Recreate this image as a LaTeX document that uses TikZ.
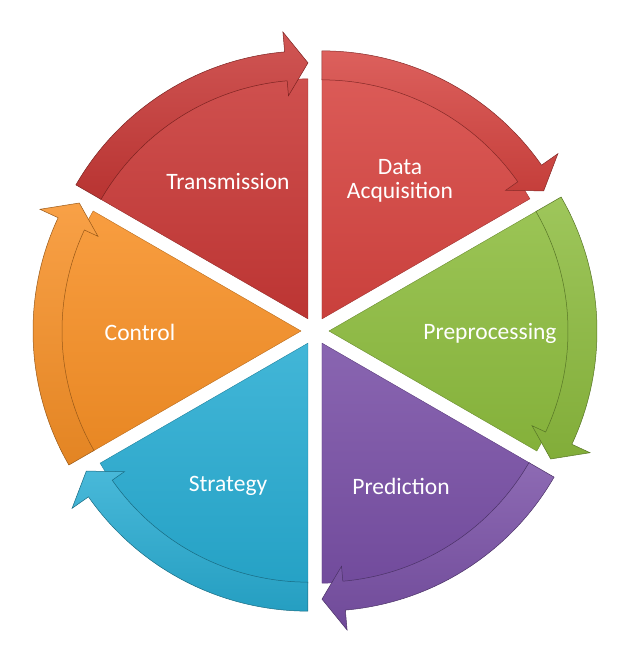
\documentclass[tikz,border=0pt]{standalone}
\usepackage{fontspec}
\setmainfont{Carlito}
\usetikzlibrary{calc}
\definecolor{acqred}{RGB}{214,68,64}
\definecolor{transred}{RGB}{200,56,54}
\definecolor{prepgreen}{RGB}{141,188,62}
\definecolor{predpurple}{RGB}{121,80,166}
\definecolor{stratblue}{RGB}{40,172,210}
\definecolor{ctrlorange}{RGB}{247,144,38}
\tikzset{
    segbody/.style={top color=#1!88!white, bottom color=#1!94!black, draw=#1!75!black, line width=0.4pt},
    segband/.style={top color=#1!85!white, bottom color=#1!92!black, draw=#1!62!black, line width=0.5pt},
    seglabel/.style={text=white, align=center, font=\fontsize{23.5}{23.5}\selectfont}
}

\begin{document}
\begin{tikzpicture}[x=1pt, y=1pt]
    \useasboundingbox (-315,-331) rectangle (307,331);
    \def\Rin{239}
    \def\Rout{268}
    \foreach \m/\col/\tx/\ty/\name/\txt in {
        60/acqred/85/150/acq/{Data\\Acquisition},
        0/prepgreen/175/-2/prep/Preprocessing,
        -60/predpurple/86/-155/pred/Prediction,
        -120/stratblue/-87/-155/strat/Strategy,
        180/ctrlorange/-175/-1/ctrl/Control,
        120/transred/-87/149/trans/Transmission}{
        \pgfmathsetmacro\s{\m+30}
        \pgfmathsetmacro\e{\m-30}
        \pgfmathsetmacro\h{\m-25}
        \coordinate (c) at (\m:14);
        % pie body
        \path[segbody=\col] (c) -- ($(c)+(\e:\Rin+1)$)
            arc[start angle=\e, end angle=\s, radius=\Rin+1] -- cycle;
        % outer arrow band
        \path[segband=\col] ($(c)+(\s:\Rout)$)
            arc[start angle=\s, end angle=\h, radius=\Rout]
            -- ($(c)+(\h:\Rout+20)$) -- ($(c)+(\e:256)$)
            -- ($(c)+(\h:\Rin-15)$) -- ($(c)+(\h:\Rin)$)
            arc[start angle=\h, end angle=\s, radius=\Rin] -- cycle;
        \node[seglabel] (\name) at (\tx,\ty) {\txt};
    }
\end{tikzpicture}
\end{document}
